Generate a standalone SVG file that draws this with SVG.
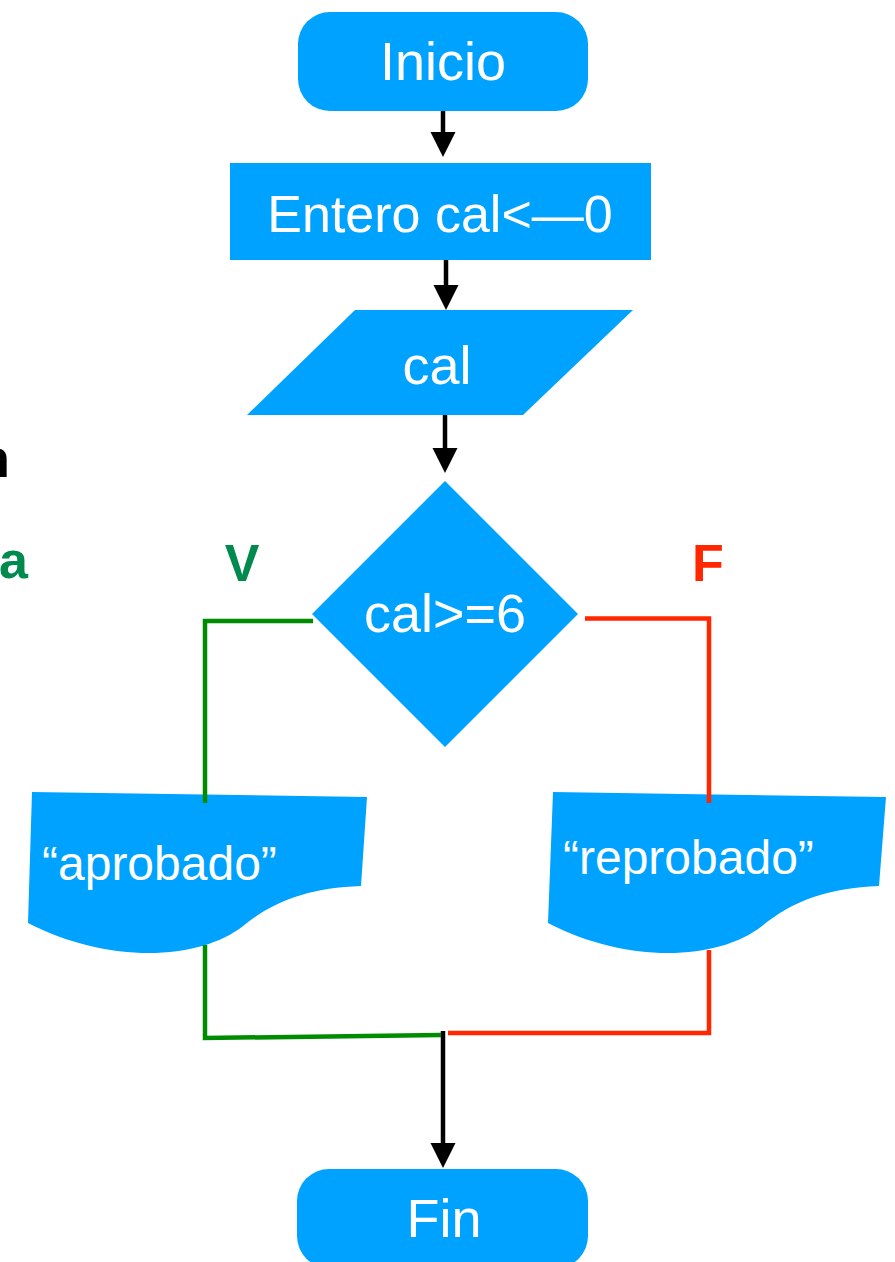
<svg xmlns="http://www.w3.org/2000/svg" width="895" height="1262" viewBox="0 0 895 1262">
<style>
.shape{fill:#00A2FF}
.t{font-family:"Liberation Sans",Arial,sans-serif;fill:#ffffff;text-anchor:middle}
.ts{font-family:"Liberation Sans",Arial,sans-serif;fill:#ffffff;text-anchor:start}
.lbl{font-family:"Liberation Sans",Arial,sans-serif;font-weight:bold}
.arrow{stroke:#000;stroke-width:4.5;fill:none}
.g{stroke:#008C00;stroke-width:4.5;fill:none;stroke-linejoin:miter}
.r{stroke:#FF2600;stroke-width:4.5;fill:none;stroke-linejoin:miter}
</style>
<defs>
<marker id="ah" markerUnits="userSpaceOnUse" markerWidth="26" markerHeight="26" refX="1" refY="12.5" orient="auto">
<path d="M0,0 L25,12.5 L0,25 Z" fill="#000"/>
</marker>
</defs>
<rect width="895" height="1262" fill="#ffffff"/>
<g id="labels">
<text class="lbl" x="-23" y="477" font-size="54" fill="#000">n</text>
<text class="lbl" x="-1" y="578" font-size="52" fill="#008A4E">a</text>
<text class="lbl" x="242" y="581" font-size="52" fill="#008A4E" text-anchor="middle">V</text>
<text class="lbl" x="708" y="581" font-size="52" fill="#FF2600" text-anchor="middle">F</text>
</g>
<g id="inicio">
<rect class="shape" x="298" y="12" width="290" height="99" rx="32"/>
<text class="t" x="443" y="80" font-size="54">Inicio</text>
</g>
<g id="entero">
<rect class="shape" x="230" y="163" width="421" height="97"/>
<text class="t" x="440" y="232" font-size="52">Entero cal&lt;—0</text>
</g>
<g id="leer">
<polygon class="shape" points="355,310 633,310 523,415 247,415"/>
<text class="t" x="437" y="384" font-size="54">cal</text>
</g>
<g id="decision">
<polygon class="shape" points="445,481 578,614 445,747 312,614"/>
<text class="t" x="445" y="632" font-size="54">cal&gt;=6</text>
</g>
<g id="aprobado">
<path class="shape" d="M32,792 L367,797 L361,886 C310,888 275,900 243,926 C200,960 110,965 28,923 Z"/>
<text class="ts" x="42" y="880" font-size="48">“aprobado”</text>
</g>
<g id="reprobado">
<path class="shape" d="M553,792 L886,797 L879,886 C829,888 794,900 762,926 C719,960 629,965 548,923 Z"/>
<text class="ts" x="563" y="874" font-size="48">“reprobado”</text>
</g>
<g id="fin">
<rect class="shape" x="297" y="1169" width="291" height="99" rx="32"/>
<text class="t" x="444" y="1237" font-size="54">Fin</text>
</g>
<g id="connectors">
<line class="arrow" x1="443" y1="111" x2="443" y2="133" marker-end="url(#ah)"/>
<line class="arrow" x1="446" y1="260" x2="446" y2="286" marker-end="url(#ah)"/>
<line class="arrow" x1="445" y1="415" x2="445" y2="449" marker-end="url(#ah)"/>
<line class="arrow" x1="443" y1="1031" x2="443" y2="1144" marker-end="url(#ah)"/>
<polyline class="g" points="313,621 205,621 205,803"/>
<polyline class="g" points="205,945 205,1038 441,1035"/>
<polyline class="r" points="585,618.5 709,618.5 709,803"/>
<polyline class="r" points="709,950 709,1033 448,1033"/>
</g>
</svg>
